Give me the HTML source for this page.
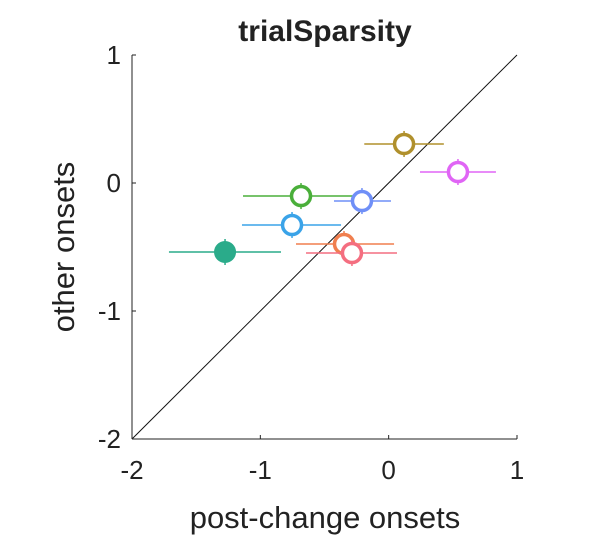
<!DOCTYPE html>
<html><head><meta charset="utf-8"><style>
body{margin:0;background:#fff}
svg text{font-family:"Liberation Sans",sans-serif;fill:#222}
</style></head><body>
<svg id="c" width="596" height="537">
<text x="325" y="41" text-anchor="middle" font-size="30" font-weight="bold">trialSparsity</text>
<g id="ax"></g><g id="marks"></g>
<text x="325" y="528" text-anchor="middle" font-size="31">post-change onsets</text>
<text transform="translate(74,247) rotate(-90)" text-anchor="middle" font-size="31">other onsets</text>
</svg>
<script>
const ticks=[-2,-1,0,1];
const tickLabels=["-2","-1","0","1"];
const names=["gold","magenta","green","periwinkle","sky","teal","orange","pink"];
const colors=["#b0902c","#e065f5","#4aaf3a","#6f8ff7","#3aa3e8","#2aab8a","#f07f4f","#f46e80"];
const xs=[0.12,0.54,-0.683,-0.208,-0.753,-1.275,-0.348,-0.286];
const ys=[0.305,0.086,-0.102,-0.141,-0.328,-0.539,-0.477,-0.547];
const xlo=[-0.19,0.244,-1.135,-0.426,-1.143,-1.712,-0.722,-0.644];
const xhi=[0.43,0.836,-0.247,0.018,-0.371,-0.839,0.042,0.065];
const filled=[false,false,false,false,false,true,false,false];
const X=v=>132+(v+2)*128.33, Y=v=>183-v*128;
const NS="http://www.w3.org/2000/svg";
function mk(p,t,a){const e=document.createElementNS(NS,t);for(const k in a)e.setAttribute(k,a[k]);p.appendChild(e);return e;}
const ax=document.getElementById('ax'),mg=document.getElementById('marks');
let l=mk(ax,'line',{x1:132,y1:55,x2:132,y2:439,stroke:'#222','stroke-width':1});


l=mk(ax,'line',{x1:132,y1:439,x2:517,y2:439,stroke:'#222','stroke-width':1});


l=mk(ax,'line',{x1:X(-2),y1:Y(-2),x2:X(1),y2:Y(1),stroke:'#111','stroke-width':1});


ticks.forEach((t,i)=>{
 let a=mk(ax,'line',{x1:X(t),y1:439,x2:X(t),y2:435,stroke:'#222'});
 
 
 let b=mk(ax,'line',{x1:132,y1:Y(t),x2:136,y2:Y(t),stroke:'#222'});
 
 
 let tx=mk(ax,'text',{x:X(t),y:479,'text-anchor':'middle','font-size':26});tx.textContent=tickLabels[i];
 
 
 let ty=mk(ax,'text',{x:121,y:Y(t)+9,'text-anchor':'end','font-size':26});ty.textContent=tickLabels[i];
 
 
});
xs.forEach((x,i)=>{
 const g=mk(mg,'g',{});
 
 
 mk(g,'line',{x1:X(xlo[i]),y1:Y(ys[i]),x2:X(xhi[i]),y2:Y(ys[i]),stroke:colors[i],'stroke-width':1.5});
 mk(g,'line',{x1:X(x),y1:Y(ys[i])-13,x2:X(x),y2:Y(ys[i])+13,stroke:colors[i],'stroke-width':1.5});
 mk(g,'circle',{cx:X(x),cy:Y(ys[i]),r:filled[i]?11:9.5,fill:filled[i]?colors[i]:'#fff',stroke:colors[i],'stroke-width':filled[i]?0:3.5});
});
</script>
</body></html>
